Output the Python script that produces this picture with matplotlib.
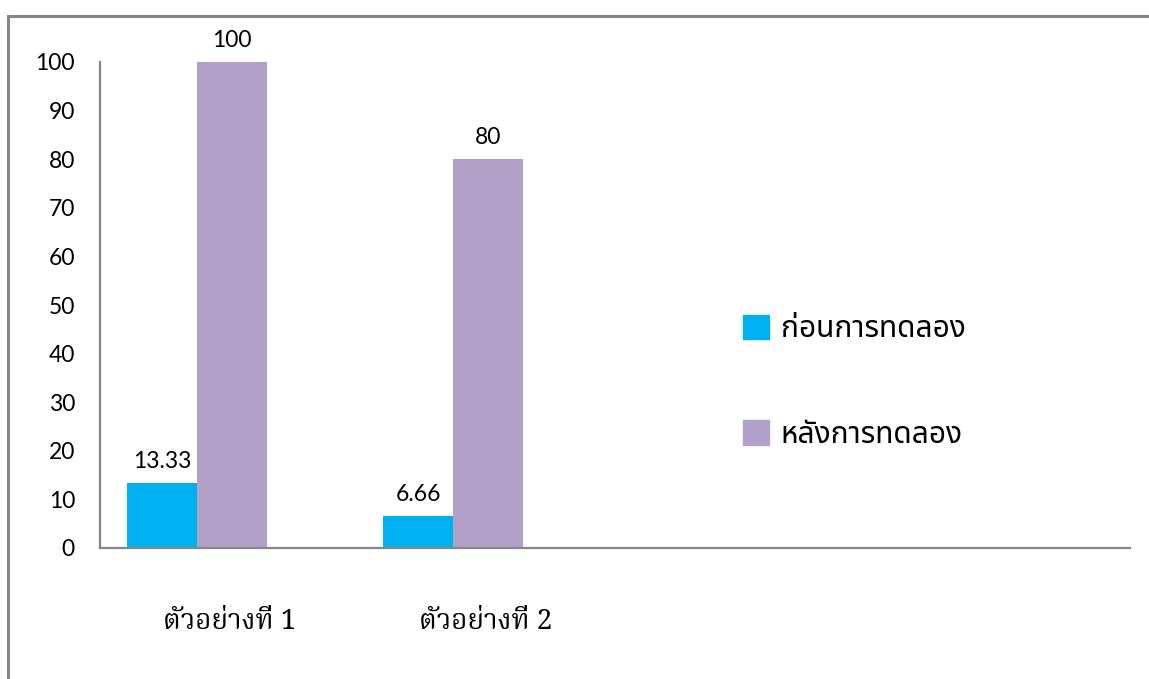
import matplotlib
matplotlib.use("Agg")
import matplotlib.pyplot as plt
import matplotlib.transforms as mtransforms
from matplotlib.lines import Line2D
from matplotlib.patches import Patch
import numpy as np

categories = ["ตัวอย่างที่ 1", "ตัวอย่างที่ 2"]
series_names = ["ก่อนการทดลอง", "หลังการทดลอง"]
before_vals = [13.33, 6.66]
after_vals = [100, 80]
before_labels = ["13.33", "6.66"]
after_labels = ["100", "80"]
yticks = [0, 10, 20, 30, 40, 50, 60, 70, 80, 90, 100]

BLUE = "#00B0F0"
PURPLE = "#B1A0C7"
GREY = "#878787"
NUM_FONT = ["Lato", "DejaVu Sans"]
CAT_FONT = ["Noto Serif Thai", "Liberation Serif", "DejaVu Serif"]
LEG_FONT = ["Noto Sans Thai", "DejaVu Sans"]
NUM_SIZE = 16.5

fig = plt.figure(figsize=(11.49, 6.79), dpi=100)
W, H = 1149, 679
ax = fig.add_axes([100/W, 1-548/H, (1130-100)/W, (548-62)/H])
x = np.arange(len(categories))
w = 0.273
b1 = ax.bar(x - w/2, before_vals, w, color=BLUE)
b2 = ax.bar(x + w/2, after_vals, w, color=PURPLE)
ax.set_xlim(-0.379, 3.645)
ax.set_ylim(0, 100)
ax.set_yticks(yticks)
ax.set_yticklabels([str(v) for v in yticks], family=NUM_FONT, fontsize=NUM_SIZE)
ax.tick_params(axis="y", length=0, pad=18)
ax.set_xticks(x)
ax.set_xticklabels(categories, family=CAT_FONT, fontsize=20)
ax.tick_params(axis="x", length=0, pad=43)
off = mtransforms.ScaledTranslation(33/100, 0, fig.dpi_scale_trans)
for lab in ax.get_xticklabels():
    lab.set_transform(lab.get_transform() + off)

for s in ["top", "right"]:
    ax.spines[s].set_visible(False)
for s in ["left", "bottom"]:
    ax.spines[s].set_color(GREY)
    ax.spines[s].set_linewidth(1.6)

for rects, labs in ((b1, before_labels), (b2, after_labels)):
    for r, t in zip(rects, labs):
        ax.annotate(t, (r.get_x() + r.get_width()/2, r.get_height()),
                    xytext=(0, 8), textcoords="offset points",
                    ha="center", va="bottom", family=NUM_FONT, fontsize=NUM_SIZE)

handles = [Patch(color=BLUE), Patch(color=PURPLE)]
leg = fig.legend(handles, series_names, loc="upper left",
                 bbox_to_anchor=(716/W, 1-288/H), frameon=False,
                 prop={"family": LEG_FONT, "size": 21.5},
                 handlelength=0.87, handleheight=0.87, labelspacing=2.55,
                 handletextpad=0.4)

# outer chart frame
fig.add_artist(Line2D([8/W, 1], [1-16/H, 1-16/H], color=GREY, lw=2.2))
fig.add_artist(Line2D([8/W, 8/W], [0, 1-16/H], color=GREY, lw=2.2))

fig.savefig("out.png")
